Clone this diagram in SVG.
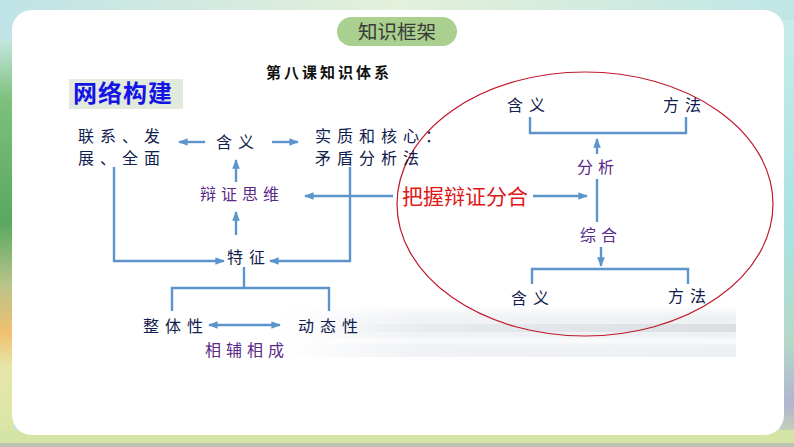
<svg xmlns="http://www.w3.org/2000/svg" width="794" height="447" viewBox="0 0 794 447">
<defs>
<linearGradient id="bgTop" x1="0" y1="0" x2="1" y2="0">
<stop offset="0" stop-color="#bfe3e6"/>
<stop offset="0.5" stop-color="#e4f0da"/>
<stop offset="1" stop-color="#bfe6e6"/>
</linearGradient>
<linearGradient id="bgLeft" x1="0" y1="0" x2="0" y2="1">
<stop offset="0" stop-color="#c4e6e0"/>
<stop offset="0.15" stop-color="#7cc07a"/>
<stop offset="0.45" stop-color="#5aa860"/>
<stop offset="0.6" stop-color="#b8c48a"/>
<stop offset="0.72" stop-color="#f0c070"/>
<stop offset="0.8" stop-color="#e6e6a8"/>
<stop offset="1" stop-color="#d6e6a6"/>
</linearGradient>
<linearGradient id="bgRight" x1="0" y1="0" x2="0" y2="1">
<stop offset="0" stop-color="#c6ecea"/>
<stop offset="0.5" stop-color="#a8e2e0"/>
<stop offset="0.75" stop-color="#b6d8c8"/>
<stop offset="0.9" stop-color="#b0b4d0"/>
<stop offset="1" stop-color="#d0e2a8"/>
</linearGradient>
<linearGradient id="mist" x1="0" y1="0" x2="1" y2="0">
<stop offset="0" stop-color="#f0f2f5" stop-opacity="0"/>
<stop offset="0.3" stop-color="#f0f2f5" stop-opacity="1"/>
<stop offset="1" stop-color="#eef1f3"/>
</linearGradient>
<linearGradient id="mistStreak" x1="0" y1="0" x2="1" y2="0">
<stop offset="0" stop-color="#dde1e5" stop-opacity="0"/>
<stop offset="0.4" stop-color="#dde1e5" stop-opacity="0.6"/>
<stop offset="1" stop-color="#d6dadf" stop-opacity="0.8"/>
</linearGradient>
<linearGradient id="mistV" x1="0" y1="0" x2="0" y2="1">
<stop offset="0" stop-color="#ffffff" stop-opacity="0"/>
<stop offset="0.5" stop-color="#ffffff" stop-opacity="0.7"/>
<stop offset="1" stop-color="#ffffff" stop-opacity="0"/>
</linearGradient>
<linearGradient id="mistTop" x1="0" y1="0" x2="0" y2="1">
<stop offset="0" stop-color="#ffffff" stop-opacity="1"/>
<stop offset="1" stop-color="#ffffff" stop-opacity="0"/>
</linearGradient>
<marker id="arr" viewBox="0 0 10 10" refX="9" refY="5" markerWidth="4" markerHeight="4" orient="auto-start-reverse">
<path d="M0,1 L10,5 L0,9 z" fill="#5b95cc"/>
</marker>
<style>
.cn{fill:none;stroke:#5b95cc;stroke-width:2.4}
.ar{fill:none;stroke:#5b95cc;stroke-width:2.4;marker-end:url(#arr)}
.t{font-family:"Noto Sans CJK SC","Noto Sans CJK TC",serif;font-size:16px;fill:#10204e;letter-spacing:6px}
.p{font-family:"Noto Sans CJK SC","Noto Sans CJK TC",serif;font-size:16px;fill:#5a2a88;letter-spacing:5px}
</style>
</defs>

<g id="background">
<rect x="0" y="0" width="794" height="447" fill="url(#bgTop)"/>
<rect x="0" y="40" width="14" height="407" fill="url(#bgLeft)"/>
<rect x="780" y="20" width="14" height="427" fill="url(#bgRight)"/>
<rect x="0" y="430" width="794" height="17" fill="#d4e4a4"/>
<rect x="0" y="443" width="794" height="4" fill="#b9c3b0"/>
<rect x="12" y="10" width="772" height="425" rx="20" ry="20" fill="#ffffff"/>
<rect x="280" y="306" width="456" height="51" fill="url(#mist)"/>
<rect x="320" y="324" width="416" height="8" fill="url(#mistStreak)"/>
<rect x="300" y="336" width="436" height="10" fill="url(#mistV)"/>
<rect x="280" y="305" width="457" height="12" fill="url(#mistTop)"/>
</g>

<g id="title-pill">
<rect x="337" y="17" width="120" height="29" rx="14.5" ry="14.5" fill="#a9d08e"/>
<text x="397" y="38.5" text-anchor="middle" font-family="'Noto Sans CJK SC',sans-serif" font-size="19.5" fill="#3a3a3a">知识框架</text>
</g>

<g id="heading">
<text x="329" y="78" text-anchor="middle" font-family="'Noto Sans CJK SC',sans-serif" font-size="15" font-weight="bold" fill="#111111" letter-spacing="3">第八课知识体系</text>
</g>

<g id="network-label">
<rect x="69" y="79" width="114" height="30" fill="#e2eadc"/>
<text x="73" y="102" font-family="'Noto Sans CJK SC',sans-serif" font-size="24" font-weight="bold" fill="#1414e6" letter-spacing="1">网络构建</text>
</g>

<g id="connectors">
<path class="ar" d="M205,142 H179"/>
<path class="ar" d="M272,142 H298"/>
<path class="ar" d="M236,182 V160"/>
<path class="ar" d="M393,196 H305"/>
<path class="ar" d="M236,235 V212"/>
<path class="ar" d="M114,167 V261 H224"/>
<path class="ar" d="M350,167 V261 H270"/>
<path class="cn" d="M244,267 V288"/>
<path class="cn" d="M172,311 V288 H329 V311"/>
<path class="ar" d="M244,325 H209"/>
<path class="ar" d="M244,325 H280"/>
<path class="ar" d="M533,196 H587"/>
<path class="cn" d="M597,179 V222"/>
<path class="ar" d="M597,154 V139"/>
<path class="cn" d="M530,117 V133 H686 V117"/>
<path class="ar" d="M601,247 V266"/>
<path class="cn" d="M532,284 V269 H688 V284"/>
</g>

<g id="ellipse">
<ellipse cx="585" cy="204" rx="188" ry="132" fill="none" stroke="#c0182a" stroke-width="1.2"/>
</g>

<g id="node-lianxi">
<text class="t" x="78" y="142">联系、发</text>
<text class="t" x="78" y="164">展、全面</text>
</g>
<g id="node-hanyi">
<text class="t" x="216" y="148" letter-spacing="9">含义</text>
</g>
<g id="node-shizhi">
<text class="t" x="315" y="142">实质和核心：</text>
<text class="t" x="315" y="164">矛盾分析法</text>
</g>
<g id="node-bianzheng">
<text class="p" x="200" y="200">辩证思维</text>
</g>
<g id="node-tezheng">
<text class="t" x="227" y="263" letter-spacing="8">特征</text>
</g>
<g id="node-zhengti">
<text class="t" x="143" y="332" letter-spacing="7">整体性</text>
</g>
<g id="node-dongtai">
<text class="t" x="298" y="332" letter-spacing="7">动态性</text>
</g>
<g id="node-xiangfu">
<text class="p" x="205" y="356" font-size="14">相辅相成</text>
</g>
<g id="node-bawo">
<text x="402" y="204" font-family="'Noto Sans CJK SC',sans-serif" font-size="21" fill="#e01818">把握辩证分合</text>
</g>
<g id="node-hanyi-top">
<text class="t" x="507" y="111" letter-spacing="9">含义</text>
</g>
<g id="node-fangfa-top">
<text class="t" x="663" y="111" letter-spacing="8">方法</text>
</g>
<g id="node-fenxi">
<text class="p" x="577" y="173" letter-spacing="9">分析</text>
</g>
<g id="node-zonghe">
<text class="p" x="580" y="241" letter-spacing="9">综合</text>
</g>
<g id="node-hanyi-bottom">
<text class="t" x="511" y="304" letter-spacing="9">含义</text>
</g>
<g id="node-fangfa-bottom">
<text class="t" x="668" y="302" letter-spacing="9">方法</text>
</g>
</svg>
